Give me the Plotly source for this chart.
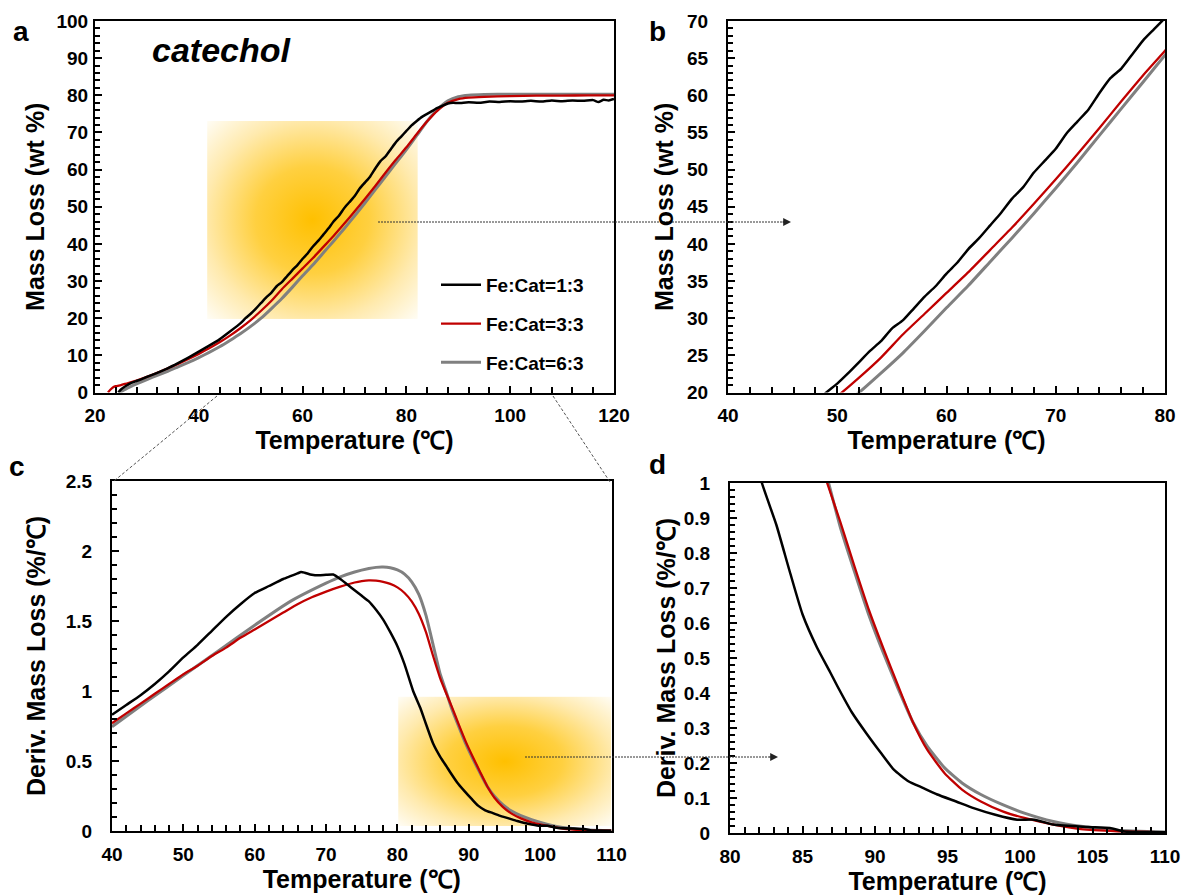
import base64
import plotly.graph_objects as go

# ---------------- data ----------------
# TGA mass loss (wt %) vs temperature (°C)
tga_black_x = [24.5, 25, 26, 27, 28, 29, 30, 32, 34, 36, 38, 40, 42, 44, 46, 48, 49, 50, 51, 52, 53, 54, 55,
               56, 57, 58, 59, 60, 61, 62, 63, 64, 65, 66, 67, 68, 69, 70, 71, 72, 73, 74, 75, 76, 77, 78,
               79, 80, 81, 82, 83, 84, 85, 86, 87, 88, 89, 90, 92, 94, 96, 98, 100, 102, 104, 106, 108,
               110, 112, 114, 116, 117, 118, 119, 120]
tga_black_y = [0, 0.8, 1.8, 2.6, 3.1, 3.6, 4.2, 5.3, 6.5, 7.9, 9.4, 11.0, 12.6, 14.3, 16.4, 18.6, 20.0, 21.2,
               22.6, 24.1, 25.6, 26.9, 28.6, 29.7, 31.3, 32.9, 34.3, 36.0, 37.5, 39.3, 40.8, 42.5, 44.2,
               46.1, 47.6, 49.6, 51.2, 52.8, 54.9, 56.5, 58.1, 60.3, 62.3, 63.6, 65.5, 67.4, 68.9, 70.4,
               71.9, 73.1, 74.2, 75.0, 75.8, 76.6, 77.2, 77.8, 78.0, 77.9, 78.1, 78.0, 78.3, 78.2, 78.4,
               78.3, 78.5, 78.3, 78.6, 78.4, 78.6, 78.5, 78.7, 78.2, 78.8, 78.6, 79.0]

tga_red_x = [22.5, 23, 23.5, 24, 25, 26, 28, 30, 32, 34, 36, 38, 40, 42, 44, 46, 48, 50, 52, 54, 56, 58, 60,
             62, 64, 66, 68, 70, 72, 74, 76, 78, 80, 82, 84, 86, 88, 90, 92, 95, 100, 105, 110, 115, 120]
tga_red_y = [0, 0.8, 1.4, 1.7, 2.0, 2.4, 3.2, 4.2, 5.3, 6.5, 7.7, 9.0, 10.4, 11.9, 13.5, 15.3, 17.3, 19.5,
             22.0, 24.7, 27.8, 30.6, 33.4, 36.2, 39.2, 42.2, 45.4, 48.7, 52.1, 55.6, 59.2, 62.7, 66.0,
             69.6, 73.0, 75.9, 78.0, 79.0, 79.4, 79.6, 79.8, 79.9, 79.9, 80.0, 80.0]

tga_gray_x = [24.8, 25.5, 26, 28, 30, 32, 34, 36, 38, 40, 42, 44, 46, 48, 50, 52, 54, 56, 58, 60, 62, 64,
              66, 68, 70, 72, 74, 76, 78, 80, 82, 84, 86, 88, 90, 92, 95, 100, 110, 120]
tga_gray_y = [0, 0.6, 1.0, 2.3, 3.5, 4.6, 5.7, 6.9, 8.1, 9.4, 10.8, 12.3, 14.0, 15.8, 17.8, 20.0, 22.6,
              25.3, 28.3, 31.4, 34.4, 37.6, 40.8, 44.1, 47.5, 51.0, 54.6, 58.2, 61.8, 65.4, 69.2, 73.0,
              76.2, 78.5, 79.6, 80.0, 80.2, 80.3, 80.3, 80.3]

# DTG derivative mass loss (%/°C) vs temperature (°C)
dtg_black_x = [40, 42, 44, 46, 48, 50, 52, 54, 56, 58, 60, 62, 64, 65, 66, 66.5, 67, 68, 69, 70, 71,
               72, 73, 74, 75, 76, 77, 78, 79, 80, 81, 82.2, 83.2, 84.1, 85.0, 86.0, 86.9, 87.4, 88.4, 89.4,
               90.4, 91.3, 92.3, 93.3, 94.3, 95.6, 96.8, 98.3, 99.8, 101.0, 102.3, 104.7, 106.2, 107.2,
               108.5, 110]
dtg_black_y = [0.83, 0.90, 0.97, 1.05, 1.14, 1.24, 1.33, 1.43, 1.53, 1.62, 1.70, 1.75, 1.80, 1.82,
               1.84, 1.85, 1.845, 1.83, 1.826, 1.83, 1.832, 1.80, 1.76, 1.72, 1.68, 1.64, 1.58, 1.51, 1.42,
               1.32, 1.19, 1.0, 0.88, 0.75, 0.625, 0.53, 0.46, 0.42, 0.345, 0.285, 0.229, 0.181, 0.148,
               0.129, 0.110, 0.090, 0.071, 0.052, 0.038, 0.038, 0.024, 0.017, 0.014, 0.004, 0.003, 0.002]

dtg_red_x = [40, 42, 44, 46, 48, 50, 52, 54, 56, 58, 60, 62, 64, 66, 68, 70, 72, 74, 75, 76, 77, 78, 79, 80,
             81, 82, 83, 84, 85, 86, 86.7, 87.6, 88.6, 89.6, 90.6, 91.6, 92.6, 93.6, 94.8, 96.0, 97.3, 98.8,
             100.3, 102.3, 104.2, 106.7, 110]
dtg_red_y = [0.77, 0.84, 0.91, 0.98, 1.05, 1.12, 1.18, 1.25, 1.31, 1.38, 1.44, 1.50, 1.56, 1.62, 1.67, 1.71,
             1.745, 1.775, 1.785, 1.79, 1.788, 1.78, 1.765, 1.74, 1.70, 1.64, 1.55, 1.42, 1.25, 1.09, 1.0,
             0.89, 0.76, 0.635, 0.525, 0.42, 0.318, 0.238, 0.171, 0.124, 0.090, 0.062, 0.043, 0.024,
             0.011, 0.005, 0.002]

dtg_gray_x = [40, 45, 50, 55, 60, 65, 70, 72, 74, 76, 77, 78, 79, 80, 81, 82, 83, 84, 85, 86, 86.8, 87.6,
              88.6, 89.6, 90.6, 91.6, 92.6, 93.6, 94.8, 96.0, 97.3, 98.8, 100.3, 102.3, 104.2, 106.7, 110]
dtg_gray_y = [0.745, 0.93, 1.11, 1.29, 1.47, 1.64, 1.77, 1.815, 1.85, 1.875, 1.883, 1.885, 1.88, 1.865,
              1.835, 1.78, 1.69, 1.54, 1.33, 1.12, 1.0, 0.875, 0.745, 0.62, 0.512, 0.412, 0.318, 0.248,
              0.186, 0.143, 0.110, 0.081, 0.057, 0.033, 0.019, 0.008, 0.003]

series_names = ["Fe:Cat=1:3", "Fe:Cat=3:3", "Fe:Cat=6:3"]
series_colors = ["#000000", "#C00000", "#808080"]

# ---------------- layout helpers ----------------
W, H = 1185, 895


def pxx(x):
    return x / W


def pyy(y):
    return 1 - y / H


FONT = "Arial, 'Liberation Sans', sans-serif"
TICKFONT = dict(family=FONT, size=19, color="black", weight="bold")
TITLEFONT = dict(family=FONT, size=25, color="black", weight="bold")

fig = go.Figure()

tga = [(tga_black_x, tga_black_y), (tga_red_x, tga_red_y), (tga_gray_x, tga_gray_y)]
dtg = [(dtg_black_x, dtg_black_y), (dtg_red_x, dtg_red_y), (dtg_gray_x, dtg_gray_y)]
widths = [2.5, 2.3, 3]
draw_order = [2, 1, 0]  # gray under red under black

for panel, (xa, ya, data) in enumerate([("x", "y", tga), ("x2", "y2", tga), ("x3", "y3", dtg), ("x4", "y4", dtg)]):
    for i in draw_order:
        fig.add_trace(go.Scatter(
            x=data[i][0], y=data[i][1], mode="lines", name=series_names[i],
            line=dict(color=series_colors[i], width=widths[i], shape="spline", smoothing=0.5),
            xaxis=xa, yaxis=ya, showlegend=(panel == 0), legendgroup=series_names[i],
            legendrank=i + 1,
        ))


def xaxis(domain, rng, dtick, mdtick, anchor):
    return dict(domain=domain, range=rng, dtick=dtick, tick0=rng[0], anchor=anchor,
                showline=True, linecolor="black", linewidth=2, mirror=True,
                ticks="inside", ticklen=7, tickwidth=1.5, tickcolor="black",
                minor=dict(dtick=mdtick, ticks="inside", ticklen=6, tickwidth=1.5, tickcolor="black"),
                showgrid=False, zeroline=False, tickfont=TICKFONT, ticklabelstandoff=5,
                title=dict(text="Temperature (℃)", font=TITLEFONT, standoff=2),
                automargin=False, fixedrange=True)


def yaxis(domain, rng, dtick, mdtick, anchor, title, lab_off, title_off):
    return dict(domain=domain, range=rng, dtick=dtick, tick0=rng[0], anchor=anchor,
                showline=True, linecolor="black", linewidth=2, mirror=True,
                ticks="inside", ticklen=7, tickwidth=1.5, tickcolor="black",
                minor=dict(dtick=mdtick, ticks="inside", ticklen=5, tickwidth=1.5, tickcolor="black"),
                showgrid=False, zeroline=False, tickfont=TICKFONT, ticklabelstandoff=lab_off,
                title=dict(text=title, font=TITLEFONT, standoff=title_off),
                automargin=False, fixedrange=True)


dom_a_x = [pxx(95), pxx(614)]
dom_b_x = [pxx(728), pxx(1165)]
dom_top_y = [pyy(392.5), pyy(21)]
dom_c_x = [pxx(112), pxx(611.5)]
dom_c_y = [pyy(831), pyy(481)]
dom_d_x = [pxx(730), pxx(1165)]
dom_d_y = [pyy(833), pyy(483)]

ML = "Mass Loss (wt %)"
DML = "Deriv. Mass Loss (%/℃)"

fig.update_layout(
    width=W, height=H, margin=dict(l=0, r=0, t=0, b=0),
    template="none", paper_bgcolor="white", plot_bgcolor="rgba(0,0,0,0)",
    font=dict(family=FONT, color="black"),
    xaxis=xaxis(dom_a_x, [20, 120], 20, 4, "y"),
    yaxis=yaxis(dom_top_y, [0, 100], 10, 2, "x", ML, 1, 5),
    xaxis2=xaxis(dom_b_x, [40, 80], 10, 2, "y2"),
    yaxis2=yaxis(dom_top_y, [20, 70], 5, 1, "x2", ML, 14, 6),
    xaxis3=xaxis(dom_c_x, [40, 110], 10, 2, "y3"),
    yaxis3=yaxis(dom_c_y, [0, 2.5], 0.5, 0.1, "x3", DML, 14, 13),
    xaxis4=xaxis(dom_d_x, [80, 110], 5, 1, "y4"),
    yaxis4=yaxis(dom_d_y, [0, 1], 0.1, 0.02, "x4", DML, 14, 1),
    legend=dict(x=pxx(436), y=pyy(266), xanchor="left", yanchor="top",
                bgcolor="rgba(0,0,0,0)", borderwidth=0,
                font=dict(family=FONT, size=19, color="black", weight="bold"),
                traceorder="grouped", tracegroupgap=11, itemwidth=40),
    showlegend=True,
)

# ---------------- radial highlight boxes ----------------
svg = ("<svg xmlns='http://www.w3.org/2000/svg' width='200' height='200' viewBox='0 0 200 200' "
       "preserveAspectRatio='none'><defs><radialGradient id='g' cx='50%' cy='50%' r='71%'>"
       "<stop offset='0' stop-color='#FFC000'/><stop offset='0.38' stop-color='#FFD040'/>"
       "<stop offset='0.72' stop-color='#FFEAAE'/><stop offset='1' stop-color='#FFFDF6'/>"
       "</radialGradient></defs><rect width='200' height='200' fill='url(#g)'/></svg>")
src = "data:image/svg+xml;base64," + base64.b64encode(svg.encode()).decode()

fig.add_layout_image(dict(source=src, xref="x", yref="y", x=41.6, y=73.1, sizex=40.6, sizey=53.3,
                          xanchor="left", yanchor="top", sizing="stretch", layer="below"))
fig.add_layout_image(dict(source=src, xref="x3", yref="y3", x=80.1, y=0.96, sizex=29.9, sizey=0.925,
                          xanchor="left", yanchor="top", sizing="stretch", layer="below"))

# ---------------- connector lines & arrows ----------------
shapes = [
    dict(type="line", xref="paper", yref="paper", x0=pxx(217), y0=pyy(396), x1=pxx(114), y1=pyy(481),
         line=dict(color="#555555", width=1, dash="3px,2px")),
    dict(type="line", xref="paper", yref="paper", x0=pxx(553), y0=pyy(396), x1=pxx(610), y1=pyy(482),
         line=dict(color="#555555", width=1, dash="3px,2px")),
    dict(type="line", xref="paper", yref="paper", x0=pxx(378), y0=pyy(222), x1=pxx(786), y1=pyy(222),
         line=dict(color="#333333", width=1, dash="2px,1px")),
    dict(type="line", xref="paper", yref="paper", x0=pxx(525), y0=pyy(757), x1=pxx(773), y1=pyy(757),
         line=dict(color="#333333", width=1, dash="2px,1px")),
]
for s in shapes:
    fig.add_shape(**s)

for (xe, ye) in [(791, 222), (778, 757)]:
    fig.add_annotation(x=pxx(xe), y=pyy(ye), xref="paper", yref="paper", ax=-10, ay=0, text="",
                       showarrow=True, arrowhead=2, arrowsize=1.3, arrowwidth=1.2, arrowcolor="#222222")

# ---------------- panel labels ----------------
for lab, (lx, ly) in {"a": (21, 31), "b": (657, 31), "c": (17, 466), "d": (657, 465)}.items():
    fig.add_annotation(x=pxx(lx), y=pyy(ly), xref="paper", yref="paper", text=lab, showarrow=False,
                       xanchor="center", yanchor="middle",
                       font=dict(family=FONT, size=28, color="black", weight="bold"))

fig.add_annotation(x=pxx(221), y=pyy(50), xref="paper", yref="paper", text="<i>catechol</i>",
                   showarrow=False, xanchor="center", yanchor="middle",
                   font=dict(family=FONT, size=34, color="black", weight="bold"))

fig.write_html("out.html")
